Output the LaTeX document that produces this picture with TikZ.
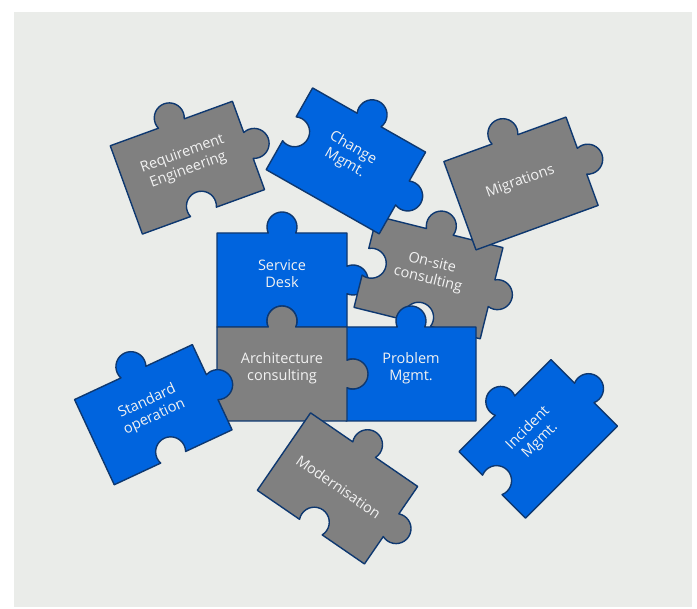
\documentclass[tikz,border=0pt]{standalone}
\usepackage{fontspec}
\setmainfont{Open Sans}
\definecolor{pcblue}{RGB}{0,100,222}
\definecolor{pcgray}{RGB}{128,128,128}
\definecolor{pcline}{RGB}{14,56,112}
\definecolor{bgc}{RGB}{234,236,233}
\definecolor{txtc}{RGB}{242,242,242}
\def\R{15}\def\A{13.75}\def\PH{23.58}
\def\tT{-- (-\A,47) arc[start angle=180+\PH,end angle=-\PH,radius=\R]}
\def\tS{-- (-\A,47) arc[start angle=180-\PH,end angle=360+\PH,radius=\R]}
\def\rT{-- (65,\A) arc[start angle=90+\PH,end angle=-90-\PH,radius=\R]}
\def\rS{-- (65,\A) arc[start angle=90-\PH,end angle=270+\PH,radius=\R]}
\def\bT{-- (\A,-47) arc[start angle=360+\PH,end angle=180-\PH,radius=\R]}
\def\bS{-- (\A,-47) arc[start angle=360-\PH,end angle=540+\PH,radius=\R]}
\def\lT{-- (-65,-\A) arc[start angle=270+\PH,end angle=90-\PH,radius=\R]}
\def\lS{-- (-65,-\A) arc[start angle=270-\PH,end angle=450+\PH,radius=\R]}
\def\F{}
\newcommand\piece[4]{(-65,47) #1 -- (65,47) #2 -- (65,-47) #3 -- (-65,-47) #4 -- cycle}
\tikzset{
  bluepc/.style={fill=pcblue,draw=pcline,line width=1.4pt,line join=round},
  graypc/.style={fill=pcgray,draw=pcline,line width=1.4pt,line join=round},
  txt/.style={text=txtc,align=center,font=\fontsize{14.5}{17}\selectfont,inner sep=0pt,transform shape}
}
\begin{document}
\begin{tikzpicture}[x=1pt,y=1pt]
\useasboundingbox (0,0) rectangle (697,609);
\fill[bgc] (14,2) rectangle (692,597);
% Service Desk
\begin{scope}[shift={(282,329)}]
\draw[bluepc] \piece{\tT}{\rT}{\bS}{\F};
\node[txt] (sd) at (0,6) {Service\\Desk};
\end{scope}
% On-site consulting
\begin{scope}[shift={(428.5,331.5)},rotate=-14]
\draw[graypc] \piece{\tT}{\rT}{\bS}{\lS};
\node[txt] (os) at (0,6) {On-site\\consulting};
\end{scope}
% Change Mgmt
\begin{scope}[shift={(345.9,448.1)},rotate=-29.6]
\draw[bluepc] \piece{\tT}{\rT}{\F}{\lS};
\node[txt] (cm) at (0,6) {Change\\Mgmt.};
\end{scope}
% Problem Mgmt
\begin{scope}[shift={(411,235)}]
\draw[bluepc] \piece{\tT}{\F}{\F}{\lS};
\node[txt] (pm) at (0,6) {Problem\\Mgmt.};
\end{scope}
% Architecture consulting
\begin{scope}[shift={(282,235)}]
\draw[graypc] \piece{\tT}{\rT}{\F}{\F};
\node[txt] (ac) at (0,6) {Architecture\\consulting};
\end{scope}
% Standard operation
\begin{scope}[shift={(153.3,194.3)},rotate=25]
\draw[bluepc] \piece{\tT}{\rT}{\bS}{\F};
\node[txt] (so) at (0,6) {Standard\\operation};
\end{scope}
% Requirement Engineering
\begin{scope}[shift={(187.4,441.3)},rotate=20]
\draw[graypc] \piece{\tT}{\rT}{\bS}{\F};
\node[txt] (re) at (0,6) {Requirement\\Engineering};
\end{scope}
% Migrations
\begin{scope}[shift={(521,425.5)},rotate=20]
\draw[graypc] \piece{\tT}{\rT}{\F}{\F};
\node[txt] (mi) at (0,2) {Migrations};
\end{scope}
% Modernisation
\begin{scope}[shift={(337.5,120.6)},rotate=-34.5]
\draw[graypc] \piece{\tT}{\rT}{\bS}{\F};
\node[txt] (mo) at (0,2) {Modernisation};
\end{scope}
% Incident Mgmt
\begin{scope}[shift={(538.3,170.1)},rotate=45]
\draw[bluepc] \piece{\tT}{\rT}{\F}{\lS};
\node[txt] (im) at (0,6) {Incident\\Mgmt.};
\end{scope}
\end{tikzpicture}
\end{document}
